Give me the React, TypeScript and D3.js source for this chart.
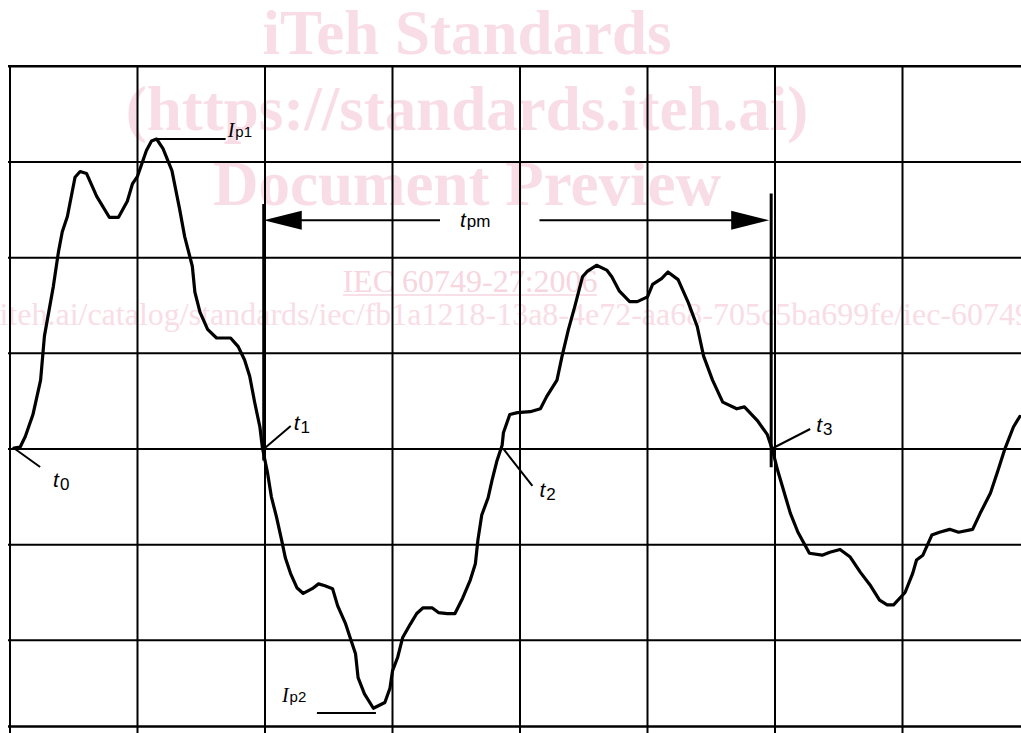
import React from "react";
import * as d3 from "d3";

const W = 1021;
const H = 733;

// Waveform: time in grid divisions, current in grid divisions
const waveT = [
  0.03, 0.08, 0.12, 0.18, 0.24, 0.27, 0.34, 0.38, 0.41, 0.45, 0.51, 0.55, 0.6, 0.68, 0.78, 0.85, 0.92, 0.96, 1.0,
  1.07, 1.11, 1.15, 1.2, 1.27, 1.33, 1.37, 1.43, 1.45, 1.49, 1.55, 1.62, 1.73, 1.79, 1.84, 1.88, 1.92, 1.96, 1.98,
  2.02, 2.05, 2.09, 2.13, 2.16, 2.2, 2.25, 2.3, 2.37, 2.42, 2.47, 2.53, 2.57, 2.63, 2.67, 2.71, 2.73, 2.78, 2.85,
  2.94, 2.98, 3.0, 3.04, 3.08, 3.14, 3.19, 3.24, 3.31, 3.36, 3.43, 3.49, 3.55, 3.61, 3.65, 3.67, 3.7, 3.75, 3.78,
  3.82, 3.86, 3.87, 3.92, 3.98, 4.08, 4.16, 4.21, 4.29, 4.33, 4.38, 4.43, 4.49, 4.53, 4.6, 4.68, 4.72, 4.78, 4.86,
  4.92, 5.0, 5.04, 5.11, 5.16, 5.24, 5.32, 5.39, 5.44, 5.51, 5.59, 5.7, 5.76, 5.86, 5.94, 5.98, 6.02, 6.06, 6.12,
  6.18, 6.27, 6.37, 6.43, 6.51, 6.59, 6.67, 6.75, 6.82, 6.88, 6.93, 7.02, 7.08, 7.11, 7.16, 7.23, 7.29, 7.37, 7.44,
  7.55, 7.61, 7.69, 7.75, 7.8, 7.87, 7.92,
];
const waveI = [
  0.01, 0.02, 0.13, 0.36, 0.72, 1.18, 1.7, 2.06, 2.27, 2.43, 2.84, 2.9, 2.88, 2.64, 2.42, 2.42, 2.59, 2.77, 2.85,
  3.12, 3.22, 3.24, 3.14, 2.91, 2.51, 2.22, 1.91, 1.64, 1.43, 1.25, 1.16, 1.16, 1.07, 0.93, 0.76, 0.48, 0.23, 0.01,
  -0.25, -0.5, -0.71, -0.95, -1.14, -1.3, -1.45, -1.51, -1.46, -1.41, -1.43, -1.46, -1.64, -1.82, -1.98, -2.14, -2.39, -2.56, -2.71,
  -2.65, -2.5, -2.32, -2.18, -1.97, -1.83, -1.72, -1.66, -1.66, -1.71, -1.72, -1.72, -1.56, -1.37, -1.2, -0.95, -0.69, -0.51, -0.33,
  -0.12, 0.04, 0.17, 0.36, 0.38, 0.39, 0.42, 0.55, 0.72, 0.97, 1.25, 1.49, 1.8, 1.86, 1.92, 1.87, 1.8, 1.65, 1.54,
  1.54, 1.59, 1.72, 1.78, 1.85, 1.77, 1.53, 1.28, 0.97, 0.72, 0.49, 0.42, 0.44, 0.3, 0.15, -0.01, -0.22, -0.4, -0.67,
  -0.87, -1.09, -1.11, -1.08, -1.05, -1.13, -1.29, -1.43, -1.58, -1.63, -1.63, -1.5, -1.3, -1.16, -1.11, -0.9, -0.87, -0.84, -0.87,
  -0.84, -0.67, -0.46, -0.22, -0.01, 0.23, 0.34,
];

// Grid
const gridX = [0, 1, 2, 3, 4, 5, 6, 7, 8];
const gridY = [-2, -1, 0, 1, 2, 3, 4];
const frameBottom = -2.9;

// Zero-crossing instants
const crossNames = ["0", "1", "2", "3"];
const crossT = [0.04, 1.99, 3.87, 5.97];

// Peaks
const peakNames = ["p1", "p2"];
const peakT = [1.15, 2.87];
const peakI = [3.24, -2.76];

// Period measurement
const pmStart = 1.99;
const pmEnd = 5.97;
const pmLevel = 2.39;

// Watermark texts
const wmBig = ["iTeh Standards", "(https://standards.iteh.ai)", "Document Preview"];
const wmCode = "IEC 60749-27:2006";
const wmUrl = "https://standards.iteh.ai/catalog/standards/iec/fb1a1218-13a8-4e72-aa68-705c5ba699fe/iec-60749-27-2006";

export default function App() {
  const x = d3.scaleLinear().domain([0, 8]).range([10, 1030]);
  const y = d3.scaleLinear().domain([-3, 4]).range([736, 66.3]);

  const pts: [number, number][] = waveT.map((t, i) => [t, waveI[i]]);
  const line = d3
    .line<[number, number]>()
    .x((d) => x(d[0]))
    .y((d) => y(d[1]));

  const pink = "#f9dde6";
  const pinkLink = "#f7d6e0";
  const sans = "'Liberation Sans', Arial, sans-serif";
  const serif = "'Liberation Serif', 'Times New Roman', serif";

  // leader offsets (px) for crossing labels
  const leaders = [
    { dx: 25, dy: 18, lx: 38, ly: 38 },
    { dx: 27, dy: -23, lx: 30, ly: -19 },
    { dx: 29, dy: 37, lx: 36, ly: 48 },
    { dx: 39, dy: -20, lx: 45, ly: -17 },
  ];

  const yPm = y(pmLevel);
  const x1 = x(pmStart);
  const x2 = x(pmEnd);

  return (
    <svg
      width={W}
      height={H}
      style={{ position: "fixed", left: 0, top: 0, background: "#fff" }}
    >
      <rect x={0} y={0} width={W} height={H} fill="#fff" />
      {/* watermark */}
      <g fill={pink} fontFamily={serif}>
        {wmBig.map((s, i) => (
          <text key={s} x={467} y={54 + i * 75.5} textAnchor="middle" fontSize={63} fontWeight="bold">
            {s}
          </text>
        ))}
        <text x={470} y={292} textAnchor="middle" fontSize={32} fill={pinkLink}>
          {wmCode}
        </text>
        <line x1={343} x2={597} y1={295} y2={295} stroke={pinkLink} strokeWidth={1.5} />
        <text x={465} y={325} textAnchor="middle" fontSize={32}>
          {wmUrl}
        </text>
      </g>

      {/* grid */}
      <g stroke="#000" strokeWidth={2}>
        {gridX.map((g) => (
          <line key={"vx" + g} x1={x(g)} x2={x(g)} y1={y(4)} y2={H} />
        ))}
        {gridY.map((g) => (
          <line key={"hy" + g} x1={8} x2={W} y1={y(g)} y2={y(g)} strokeWidth={g === 4 ? 2.6 : 2} />
        ))}
        <line x1={8} x2={W} y1={y(frameBottom)} y2={y(frameBottom)} strokeWidth={2.4} />
      </g>

      {/* marker lines t1, t3 */}
      <g stroke="#000" strokeWidth={3}>
        <line x1={x(crossT[1])} x2={x(crossT[1])} y1={y(2.56)} y2={y(-0.12)} />
        <line x1={x(crossT[3])} x2={x(crossT[3])} y1={y(2.67)} y2={y(-0.19)} />
      </g>

      {/* period arrow */}
      <g>
        <line x1={x1 + 36} x2={440} y1={yPm} y2={yPm} stroke="#000" strokeWidth={2} />
        <line x1={539.5} x2={x2 - 36} y1={yPm} y2={yPm} stroke="#000" strokeWidth={2} />
        <path d={`M${x1},${yPm} L${x1 + 38},${yPm - 9.5} L${x1 + 38},${yPm + 9.5} Z`} fill="#000" />
        <path d={`M${x2 - 2},${yPm} L${x2 - 40},${yPm - 9.5} L${x2 - 40},${yPm + 9.5} Z`} fill="#000" />
        <text x={460} y={yPm + 7} fontFamily={sans} fontSize={21} fontStyle="italic">
          t
          <tspan fontStyle="normal" fontSize={17} dx={1}>
            pm
          </tspan>
        </text>
      </g>

      {/* waveform */}
      <path
        d={line(pts) || ""}
        fill="none"
        stroke="#000"
        strokeWidth={3.2}
        strokeLinejoin="round"
        strokeLinecap="round"
      />

      {/* crossing leaders and labels */}
      {crossT.map((t, i) => {
        const cx = x(t);
        const cy = y(0);
        const L = leaders[i];
        return (
          <g key={"c" + i}>
            <line x1={cx} y1={cy} x2={cx + L.dx} y2={cy + L.dy} stroke="#000" strokeWidth={2} />
            <text x={cx + L.lx} y={cy + L.ly} fontFamily={sans} fontSize={21} fontStyle="italic">
              t
              <tspan fontStyle="normal" fontSize={17} dy={3} dx={1}>
                {crossNames[i]}
              </tspan>
            </text>
          </g>
        );
      })}

      {/* peak leaders and labels */}
      <g>
        <line x1={x(peakT[0])} x2={x(peakT[0]) + 69} y1={y(peakI[0])} y2={y(peakI[0])} stroke="#000" strokeWidth={2} />
        <text x={x(peakT[0]) + 71} y={y(peakI[0]) - 2} fontFamily={serif} fontSize={20} fontStyle="italic">
          I
          <tspan fontFamily={sans} fontStyle="normal" fontSize={15} dx={1}>
            {peakNames[0]}
          </tspan>
        </text>
        <line x1={x(peakT[1]) - 59} x2={x(peakT[1])} y1={y(peakI[1])} y2={y(peakI[1])} stroke="#000" strokeWidth={2} />
        <text x={x(peakT[1]) - 94} y={y(peakI[1]) - 11} fontFamily={serif} fontSize={20} fontStyle="italic">
          I
          <tspan fontFamily={sans} fontStyle="normal" fontSize={15} dx={1}>
            {peakNames[1]}
          </tspan>
        </text>
      </g>
    </svg>
  );
}
